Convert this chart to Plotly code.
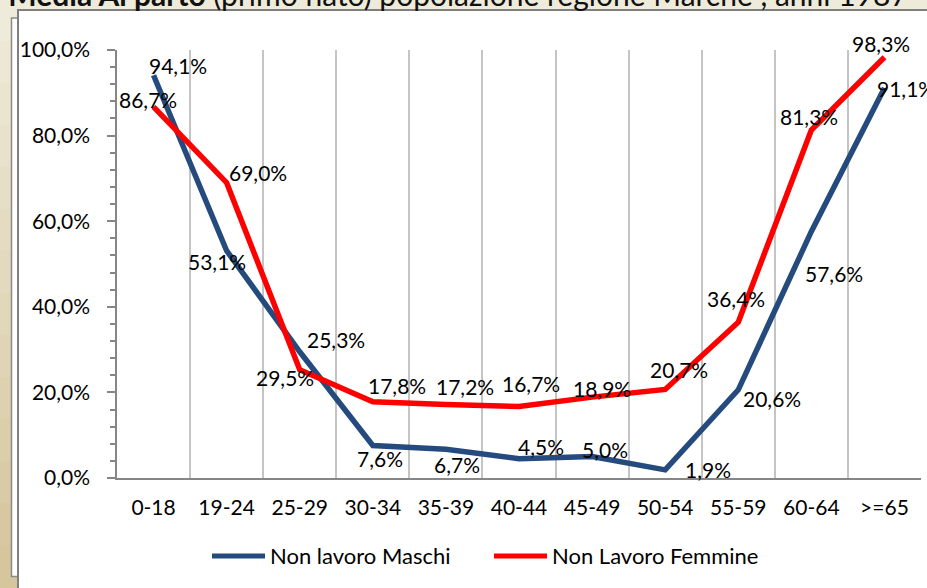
import plotly.graph_objects as go

# ---- data ----
categories = ["0-18", "19-24", "25-29", "30-34", "35-39", "40-44", "45-49",
              "50-54", "55-59", "60-64", ">=65"]
maschi = [94.1, 53.1, 29.5, 7.6, 6.7, 4.5, 5.0, 1.9, 20.6, 57.6, 91.1]
femmine = [86.7, 69.0, 25.3, 17.8, 17.2, 16.7, 18.9, 20.7, 36.4, 81.3, 98.3]
name_m = "Non lavoro Maschi"
name_f = "Non Lavoro Femmine"
title_bold = "Età Media Al parto"
title_rest = " (primo nato) popolazione regione Marche , anni 1987 - 2011"

# ---- label offsets (pixels; dx right, dy down) ----
m_dx = [24, -10, -15, 7, 11, 22, 13, 43, 34, 23, 22]
m_dy = [-10, 11, 26, 13, 15, -12, -7, 0, 9, 42, 0]
f_dx = [-6, 31, 36, 24, 19, 12, 10, 14, -2, -2, -3]
f_dy = [-7, -10, -30, -16, -18, -23, -9, -20, -24, -14, -14]

BLUE = "#254B7E"
RED = "#FF0000"
FONT = "Lato"
FS = 21
W, H = 927, 588
L, R, T, B = 117, 921, 50, 478


def px(x):
    return (x - L) / (R - L)


def py(y):
    return (B - y) / (B - T)


def fmt(v):
    return f"{v:.1f}".replace(".", ",") + "%"


fig = go.Figure()
fig.add_trace(go.Scatter(x=categories, y=maschi, mode="lines", name=name_m,
                         line=dict(color=BLUE, width=5.5), showlegend=False))
fig.add_trace(go.Scatter(x=categories, y=femmine, mode="lines", name=name_f,
                         line=dict(color=RED, width=5.5), showlegend=False))

annotations = []
for cat, v, dx, dy in zip(categories, maschi, m_dx, m_dy):
    annotations.append(dict(x=cat, y=v, xref="x", yref="y", text=fmt(v),
                            showarrow=False, xshift=dx, yshift=-dy,
                            font=dict(family=FONT, size=FS, color="black")))
for cat, v, dx, dy in zip(categories, femmine, f_dx, f_dy):
    annotations.append(dict(x=cat, y=v, xref="x", yref="y", text=fmt(v),
                            showarrow=False, xshift=dx, yshift=-dy,
                            font=dict(family=FONT, size=FS, color="black")))

# title (cut at the top of the picture)
annotations.append(dict(x=px(-44), y=py(14), xref="paper", yref="paper",
                        xanchor="left", yanchor="bottom", showarrow=False,
                        text=f"<b>{title_bold}</b>{title_rest}",
                        font=dict(family=FONT, size=30, color="#111111")))

# manual legend texts
annotations.append(dict(x=px(268), y=py(555), xref="paper", yref="paper",
                        xanchor="left", yanchor="middle", showarrow=False,
                        text=name_m, font=dict(family=FONT, size=22, color="black")))
annotations.append(dict(x=px(550), y=py(555), xref="paper", yref="paper",
                        xanchor="left", yanchor="middle", showarrow=False,
                        text=name_f, font=dict(family=FONT, size=22, color="black")))

shapes = []
# background gradient bands (beige)
top_c = (238, 235, 218)
bot_c = (214, 198, 158)
n = 14
for i in range(n):
    t = i / (n - 1)
    c = tuple(int(top_c[k] + (bot_c[k] - top_c[k]) * t) for k in range(3))
    shapes.append(dict(type="rect", xref="paper", yref="paper", layer="below",
                       x0=px(-5), x1=px(W + 5), y0=py(H * i / n - 1), y1=py(H * (i + 1) / n + 1),
                       fillcolor=f"rgb{c}", line=dict(width=0)))
# back box
shapes.append(dict(type="rect", xref="paper", yref="paper", layer="below",
                   x0=px(11.5), x1=px(40), y0=py(18), y1=py(576.5),
                   fillcolor="white", line=dict(color="#8a8a8a", width=1.5)))
# main box
shapes.append(dict(type="rect", xref="paper", yref="paper", layer="below",
                   x0=px(18), x1=px(W + 20), y0=py(10), y1=py(H + 20),
                   fillcolor="white", line=dict(color="#7f7f7f", width=2)))
# legend lines
shapes.append(dict(type="line", xref="paper", yref="paper",
                   x0=px(212), x1=px(265), y0=py(556), y1=py(556),
                   line=dict(color=BLUE, width=5)))
shapes.append(dict(type="line", xref="paper", yref="paper",
                   x0=px(494), x1=px(547), y0=py(556), y1=py(556),
                   line=dict(color=RED, width=5)))

fig.update_layout(
    width=W, height=H,
    margin=dict(l=L, r=W - R, t=T, b=H - B, pad=0),
    paper_bgcolor="rgb(226,217,188)",
    plot_bgcolor="rgba(0,0,0,0)",
    separators=",.",
    showlegend=False,
    annotations=annotations,
    shapes=shapes,
    font=dict(family=FONT, size=FS, color="black"),
    xaxis=dict(type="category", categoryorder="array", categoryarray=categories,
               range=[-0.5, 10.5], tickson="boundaries", showgrid=True,
               gridcolor="#c4c4c4", gridwidth=1.5, showline=True,
               linecolor="#868686", linewidth=1.5, ticks="", zeroline=False,
               ticklabelstandoff=10,
               tickfont=dict(family=FONT, size=FS, color="black")),
    yaxis=dict(range=[0, 100], dtick=20, tick0=0, tickformat=".1f", ticksuffix="%",
               showgrid=False, zeroline=False, showline=True,
               linecolor="#868686", linewidth=1.5, ticks="outside", ticklen=8,
               tickcolor="#868686", tickwidth=1.5, ticklabelstandoff=13,
               minor=dict(dtick=4, tick0=0, ticks="outside", ticklen=5,
                          tickcolor="#868686", tickwidth=1.5, showgrid=False),
               tickfont=dict(family=FONT, size=FS, color="black")),
)

fig.write_html("out.html", config={"displayModeBar": False},
               post_script="document.body.style.margin='0';document.body.style.padding='0';")
